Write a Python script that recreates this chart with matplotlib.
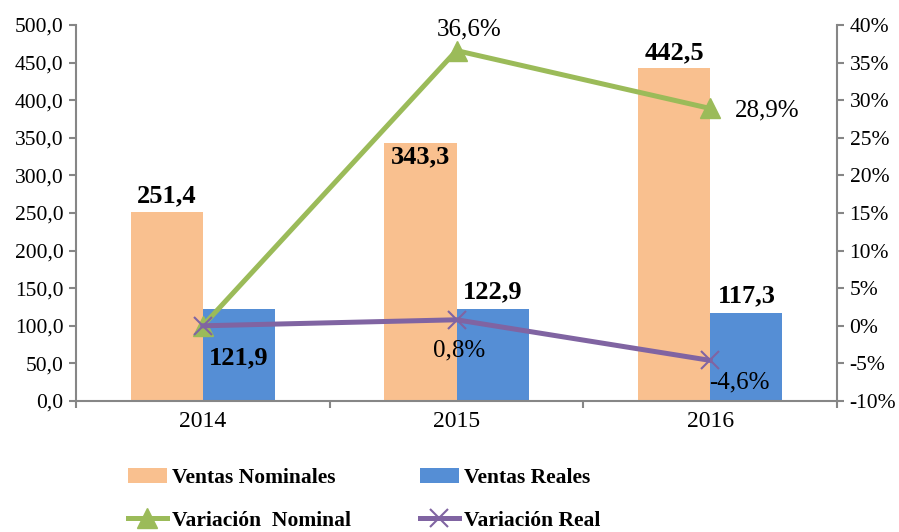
import matplotlib
matplotlib.use("Agg")
import matplotlib.pyplot as plt
import numpy as np
from matplotlib.ticker import FixedLocator, FuncFormatter

plt.rcParams['font.family'] = ['Liberation Serif', 'DejaVu Serif']

years = ["2014", "2015", "2016"]
ventas_nominales = [251.4, 343.3, 442.5]
ventas_reales = [121.9, 122.9, 117.3]
var_nominal = [0.0, 36.6, 28.9]
var_real = [0.0, 0.8, -4.6]

c_nom = "#F9C08F"
c_real = "#558ED5"
c_vnom = "#9BBB59"
c_vreal = "#8064A2"
gray = "#868686"

fig = plt.figure(figsize=(8.99, 5.32), dpi=100)
ax = fig.add_axes([76/899, 1-401/532, (837-76)/899, (401-25)/532])
ax2 = ax.twinx()

x = np.arange(len(years))
w = 0.285
b1 = ax.bar(x - w/2, ventas_nominales, w, color=c_nom, label="Ventas Nominales")
b2 = ax.bar(x + w/2, ventas_reales, w, color=c_real, label="Ventas Reales")

ax.set_xlim(-0.5, 2.5)
ax.set_ylim(0, 500)
ax.set_yticks(np.arange(0, 501, 50))
ax.yaxis.set_major_formatter(FuncFormatter(lambda v, p: f"{v:.1f}".replace(".", ",")))
ax.set_xticks(x)
ax.set_xticklabels(years)
ax.xaxis.set_minor_locator(FixedLocator([-0.5, 0.5, 1.5, 2.5]))
ax.tick_params(axis='x', which='major', length=0, labelsize=17, pad=7)
ax.tick_params(axis='x', which='minor', length=5, color=gray, width=1.5)
ax.tick_params(axis='y', length=5, color=gray, width=1.5, labelsize=15.5, pad=4)

l1, = ax2.plot(x, var_nominal, color=c_vnom, lw=3.6, marker='^', ms=14, label="Variación  Nominal")
l2, = ax2.plot(x, var_real, color=c_vreal, lw=3.6, marker='x', ms=13, mew=1.5, label="Variación Real")
ax2.set_ylim(-10, 40)
ax2.set_yticks(np.arange(-10, 41, 5))
ax2.yaxis.set_major_formatter(FuncFormatter(lambda v, p: f"{int(v)}%"))
ax2.tick_params(axis='y', length=5, color=gray, width=1.5, labelsize=15.5, pad=4)

for a in (ax, ax2):
    a.spines['top'].set_visible(False)
    for s in ('left', 'right', 'bottom'):
        a.spines[s].set_color(gray)
        a.spines[s].set_linewidth(1.5)
ax.spines['right'].set_visible(False)
ax2.spines['left'].set_visible(False)
ax2.spines['bottom'].set_visible(False)

fmt = lambda v: f"{v:.1f}".replace(".", ",")
nom_label_off = [21, -19, 21]
for i, v in enumerate(ventas_nominales):
    ax.text(x[i] - w/2, v + nom_label_off[i], fmt(v), ha='center', va='center',
            fontsize=19, fontweight='bold')
for i, v in enumerate(ventas_reales):
    yy = 57 if i == 0 else v + 22
    ax.text(x[i] + w/2, yy, fmt(v), ha='center', va='center', fontsize=19, fontweight='bold')

ax2.text(x[1] + 0.05, 39.4, fmt(var_nominal[1]) + "%", ha='center', va='center', fontsize=18)
ax2.text(x[2] + 0.098, var_nominal[2] - 0.2, fmt(var_nominal[2]) + "%", ha='left', va='center', fontsize=18)
ax2.text(x[1] + 0.01, var_real[1] - 4.1, fmt(var_real[1]) + "%", ha='center', va='center', fontsize=18)
ax2.text(x[2] + 0.117, var_real[2] - 2.9, fmt(var_real[2]) + "%", ha='center', va='center', fontsize=18)

handles = [b1, l1, b2, l2]
labels = [h.get_label() for h in handles]
fig.legend(handles, labels, loc='upper left', bbox_to_anchor=(128/899, 1-468/532), ncol=2,
           frameon=False, borderpad=0, borderaxespad=0,
           prop={'size': 15.5, 'weight': 'bold'}, columnspacing=3.2, handlelength=1.8,
           handletextpad=0.25, labelspacing=1.05)

fig.savefig("out.png", dpi=100)
